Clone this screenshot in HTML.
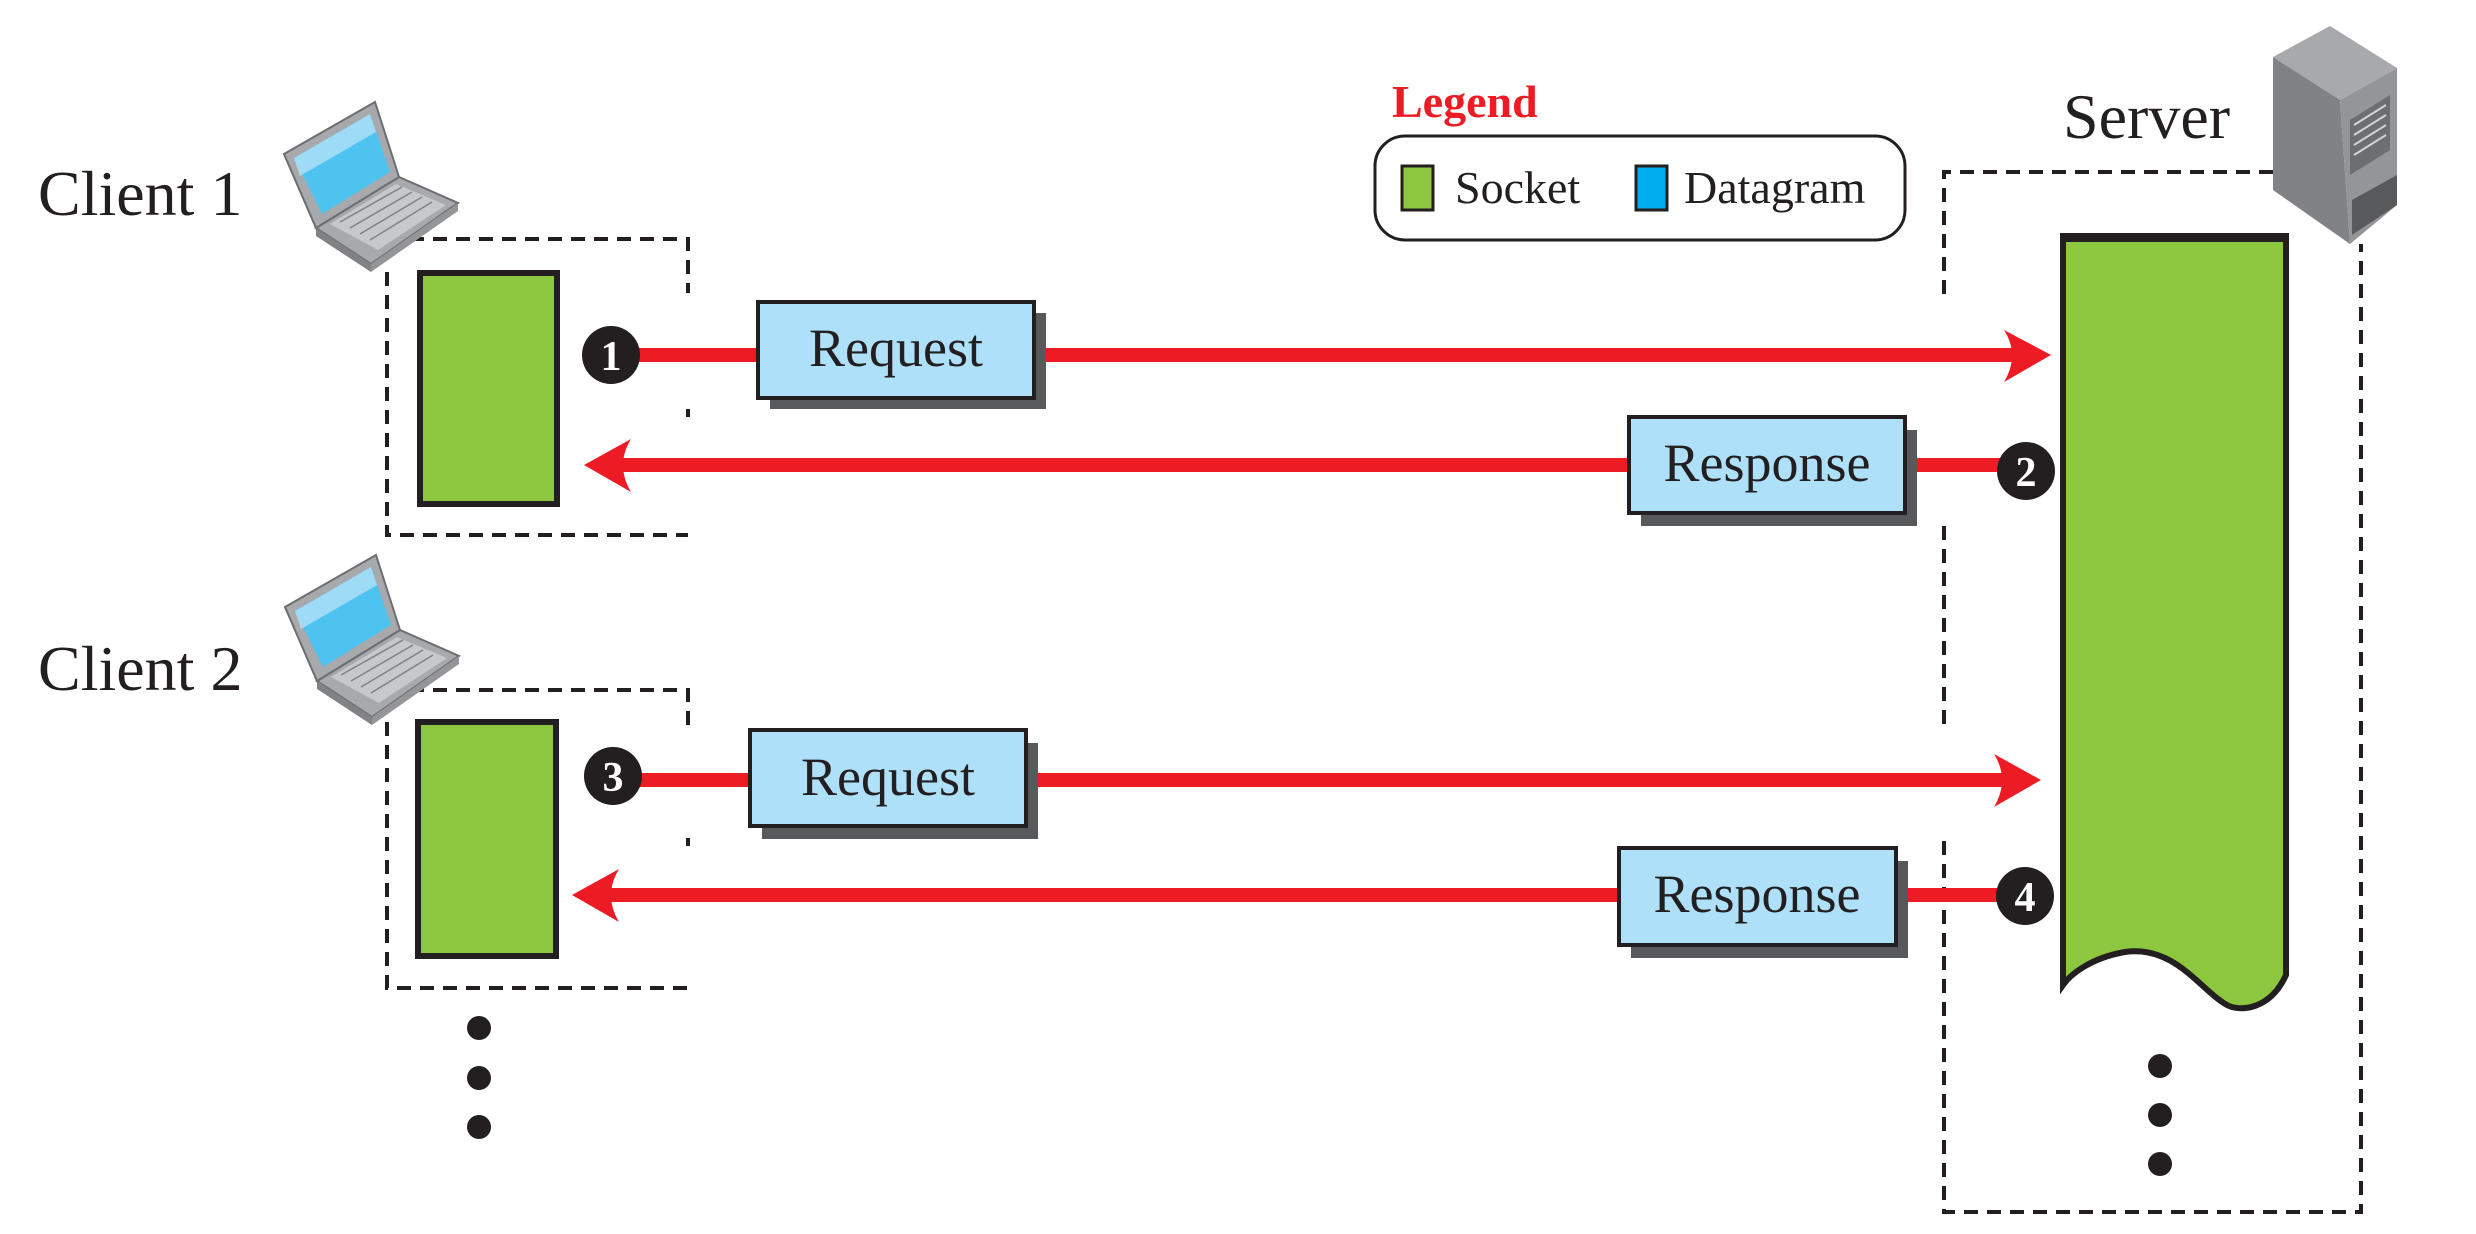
<!DOCTYPE html>
<html><head><meta charset="utf-8"><style>
html,body{margin:0;padding:0;background:#fff;}
svg{display:block;}
text{font-family:"Liberation Serif",serif;}
</style></head><body>
<svg width="2476" height="1234" viewBox="0 0 2476 1234" xmlns="http://www.w3.org/2000/svg">
<defs>
<g id="laptop">
  <polygon points="316,228 399,177 458,203 371,264" fill="#a7a9ac" stroke="#6d6e71" stroke-width="2"/>
  <polygon points="316,228 371,264 371,272 316,236" fill="#808285"/>
  <polygon points="371,264 458,203 458,211 371,272" fill="#939598"/>
  <polygon points="330,224 396,184 446,205 378,250" fill="#c7c8ca"/>
  <g stroke="#808285" stroke-width="1.5">
    <line x1="340" y1="222" x2="402" y2="187"/><line x1="350" y1="228" x2="412" y2="192"/>
    <line x1="360" y1="234" x2="422" y2="197"/><line x1="370" y1="240" x2="432" y2="202"/>
  </g>
  <polygon points="284,154 375,102 399,177 316,228" fill="#a7a9ac" stroke="#6d6e71" stroke-width="2"/>
  <polygon points="294,158 370,114 390,172 322,214" fill="#4fc3f0"/>
  <polygon points="294,158 370,114 376,132 300,176" fill="#bfe6f8" opacity="0.7"/>
</g>
</defs>

<!-- Client dashed boxes -->
<g fill="none" stroke="#231f20" stroke-width="4" stroke-dasharray="14,9">
  <path d="M410,239 H688 V293"/>
  <path d="M688,409 V417"/>
  <path d="M387,272 V535 H688"/>
  <path d="M410,690 H688 V730"/>
  <path d="M688,838 V846"/>
  <path d="M387,722 V988 H688"/>
  <!-- server box -->
  <path d="M2273,172 H1944 V301"/>
  <path d="M1944,526 V727"/>
  <path d="M1944,841 V1212 H2361 V244"/>
</g>

<use href="#laptop"/>
<use href="#laptop" transform="translate(1,453)"/>

<text x="38" y="215" font-size="64" fill="#231f20">Client 1</text>
<text x="38" y="690" font-size="64" fill="#231f20">Client 2</text>
<text x="2063" y="138" font-size="64" fill="#231f20">Server</text>

<!-- Legend -->
<text x="1392" y="117" font-size="46" font-weight="bold" fill="#ed1c24">Legend</text>
<rect x="1375" y="136" width="530" height="104" rx="30" fill="#fff" stroke="#231f20" stroke-width="3"/>
<rect x="1402" y="166" width="31" height="44" fill="#8dc63f" stroke="#231f20" stroke-width="3"/>
<text x="1455" y="203" font-size="46" fill="#231f20">Socket</text>
<rect x="1636" y="166" width="31" height="44" fill="#00aeef" stroke="#231f20" stroke-width="3"/>
<text x="1684" y="203" font-size="46" fill="#231f20">Datagram</text>

<!-- Server icon -->
<g>
  <polygon points="2273,57 2330,26 2397,68 2340,100" fill="#a7a9ac"/>
  <polygon points="2273,57 2340,100 2350,244 2273,190" fill="#808285"/>
  <polygon points="2340,100 2397,68 2397,205 2350,244" fill="#939598"/>
  <polygon points="2350,120 2390,95 2390,150 2350,175" fill="#6d6e71"/>
  <g stroke="#d1d3d4" stroke-width="2">
    <line x1="2354" y1="125" x2="2386" y2="105"/><line x1="2354" y1="135" x2="2386" y2="115"/>
    <line x1="2354" y1="145" x2="2386" y2="125"/><line x1="2354" y1="155" x2="2386" y2="135"/>
  </g>
  <polygon points="2352,200 2397,175 2397,205 2352,235" fill="#58595b"/>
</g>

<!-- Server socket -->
<path d="M2063,236 H2286 V975 C2270,1010 2240,1012 2227,1005 C2200,990 2175,945 2125,952 C2090,958 2070,975 2063,985 Z" fill="#8dc63f" stroke="#231f20" stroke-width="6"/>
<rect x="2066" y="236" width="217" height="6" fill="#231f20"/>

<!-- Client sockets -->
<rect x="420" y="273" width="137" height="231" fill="#8dc63f" stroke="#231f20" stroke-width="6"/>
<rect x="418" y="722" width="138" height="234" fill="#8dc63f" stroke="#231f20" stroke-width="6"/>

<!-- Arrows -->
<g fill="#ed1c24">
  <rect x="630" y="348" width="1385" height="14"/>
  <path d="M2051,355 L2004,330 Q2020,355 2004,382 Z"/>
  <rect x="620" y="458" width="1400" height="14"/>
  <path d="M584,465 L631,439 Q615,465 631,492 Z"/>
  <rect x="630" y="773" width="1380" height="14"/>
  <path d="M2041,780 L1994,754 Q2010,780 1994,807 Z"/>
  <rect x="610" y="888" width="1400" height="14"/>
  <path d="M572,895 L619,869 Q603,895 619,922 Z"/>
</g>

<!-- Message boxes -->
<g>
  <rect x="770" y="313" width="276" height="96" fill="#58595b"/>
  <rect x="758" y="302" width="276" height="96" fill="#aee1f9" stroke="#231f20" stroke-width="4"/>
  <text x="896" y="366" font-size="54" text-anchor="middle" fill="#231f20">Request</text>

  <rect x="1641" y="430" width="276" height="96" fill="#58595b"/>
  <rect x="1629" y="417" width="276" height="96" fill="#aee1f9" stroke="#231f20" stroke-width="4"/>
  <text x="1767" y="481" font-size="54" text-anchor="middle" fill="#231f20">Response</text>

  <rect x="762" y="743" width="276" height="96" fill="#58595b"/>
  <rect x="750" y="730" width="276" height="96" fill="#aee1f9" stroke="#231f20" stroke-width="4"/>
  <text x="888" y="795" font-size="54" text-anchor="middle" fill="#231f20">Request</text>

  <rect x="1631" y="861" width="277" height="97" fill="#58595b"/>
  <rect x="1619" y="848" width="277" height="97" fill="#aee1f9" stroke="#231f20" stroke-width="4"/>
  <text x="1757" y="912" font-size="54" text-anchor="middle" fill="#231f20">Response</text>
</g>

<!-- Numbered circles -->
<g font-size="42" font-weight="bold" text-anchor="middle" fill="#fff">
  <circle cx="611" cy="355" r="29" fill="#231f20"/><text x="611" y="370">1</text>
  <circle cx="2026" cy="471" r="29" fill="#231f20"/><text x="2026" y="486">2</text>
  <circle cx="613" cy="776" r="29" fill="#231f20"/><text x="613" y="791">3</text>
  <circle cx="2025" cy="896" r="29" fill="#231f20"/><text x="2025" y="911">4</text>
</g>

<!-- Ellipsis dots -->
<g fill="#231f20">
  <circle cx="479" cy="1028" r="12"/><circle cx="479" cy="1078" r="12"/><circle cx="479" cy="1127" r="12"/>
  <circle cx="2160" cy="1066" r="12"/><circle cx="2160" cy="1115" r="12"/><circle cx="2160" cy="1164" r="12"/>
</g>
</svg>
</body></html>
